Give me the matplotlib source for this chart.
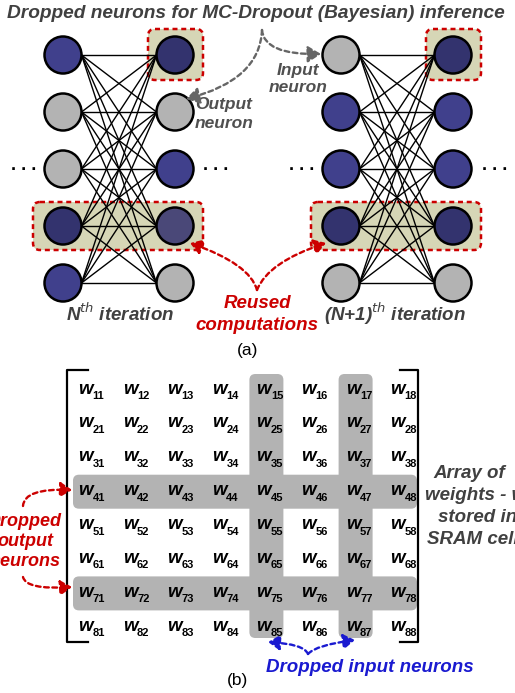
import matplotlib
matplotlib.use("Agg")
import matplotlib.pyplot as plt
from matplotlib.patches import Circle, FancyBboxPatch, FancyArrowPatch
from matplotlib.path import Path

plt.rcParams['font.family'] = ['Liberation Sans', 'DejaVu Sans']

# neuron states per layer: B = active, G = dropped, D/P = active and reused
nth_inputs = ['B', 'G', 'G', 'D', 'B']
nth_outputs = ['D', 'G', 'B', 'P', 'G']
next_inputs = ['G', 'B', 'B', 'D', 'G']
next_outputs = ['D', 'B', 'B', 'D', 'G']

# weight matrix: dropped rows (output neurons) and columns (input neurons)
n_rows = 8
n_cols = 8
dropped_rows = [4, 7]
dropped_cols = [5, 7]

fill = {'B': '#40408C', 'G': '#B3B3B3', 'D': '#33336E', 'P': '#4A4878'}
gray_txt = '#404040'
red = '#CC0000'
blue_txt = '#1A1AD0'
beige = '#D6D6B6'

fig = plt.figure(figsize=(5.15, 6.93), dpi=100)
ax = fig.add_axes([0, 0, 1, 1])
ax.set_xlim(0, 515)
ax.set_ylim(693, 0)
ax.axis('off')

bi = dict(fontweight='bold', fontstyle='italic')
fs = 13.5


def label(x, y, lines, dy, color, size=fs, ha='center'):
    for k, s in enumerate(lines):
        ax.text(x, y + k * dy, s, ha=ha, va='center', fontsize=size, color=color, **bi)


def curved_arrow(start, ctrl, end, color, hl=7, hw=4.5):
    # quadratic bezier so the bend sits where the reference has it
    p = Path([start, ctrl, end], [Path.MOVETO, Path.CURVE3, Path.CURVE3])
    ax.add_patch(FancyArrowPatch(path=p,
                                 arrowstyle='-|>,head_length=%s,head_width=%s' % (hl, hw),
                                 color=color, lw=1.7, ls=(0, (2, 1.5)), zorder=4))


ax.text(256, 14, 'Dropped neurons for MC-Dropout (Bayesian) inference',
        ha='center', va='center', fontsize=13.8, color=gray_txt, **bi)

# ---- (a) networks ----
row_y = [55 + 57 * i for i in range(5)]
r = 18.5


def hl_box(x0, y0, x1, y1):
    ax.add_patch(FancyBboxPatch((x0, y0), x1 - x0, y1 - y0,
                                boxstyle='round,pad=0,rounding_size=7',
                                fc=beige, ec=red, lw=1.8, ls=(0, (2, 1.5)), zorder=1))


def network(xl, xr, cin, cout):
    hl_box(xr - 27, row_y[0] - 26, xr + 28, row_y[0] + 25)
    hl_box(xl - 30, row_y[3] - 24, xr + 28, row_y[3] + 24)
    for yi in row_y:
        for yj in row_y:
            ax.plot([xl + r, xr - r], [yi, yj], color='black', lw=1.0, zorder=2)
    for yy, ci, co in zip(row_y, cin, cout):
        ax.add_patch(Circle((xl, yy), r, fc=fill[ci], ec='black', lw=1.8, zorder=3))
        ax.add_patch(Circle((xr, yy), r, fc=fill[co], ec='black', lw=1.8, zorder=3))


network(63, 175, nth_inputs, nth_outputs)
network(341, 453, next_inputs, next_outputs)

for xd in [24, 216, 302, 495]:
    ax.text(xd, 166, '. . .', ha='center', va='center', fontsize=13, fontweight='bold')

label(224, 105, ['Output', 'neuron'], 19, '#505050', size=12.5)
label(298, 70, ['Input', 'neuron'], 18, '#505050', size=12.5)

curved_arrow((262, 30), (260, 80), (186, 99), '#666666', hl=8, hw=5)
curved_arrow((262, 30), (264, 55), (321, 54), '#666666', hl=8, hw=5)

ax.text(120, 314, r'N$^{\mathit{th}}$ iteration', ha='center', va='center', fontsize=fs,
        color=gray_txt, **bi)
ax.text(395, 314, r'(N+1)$^{\mathit{th}}$ iteration', ha='center', va='center', fontsize=fs,
        color=gray_txt, **bi)
label(257, 304, ['Reused', 'computations'], 21, red)

curved_arrow((257, 290), (250, 264), (190, 243), red)
curved_arrow((257, 290), (268, 262), (326, 243), red)

ax.text(248, 350, '(a)', ha='center', va='center', fontsize=12.5)

# ---- (b) weight matrix ----
my = [391 + 33.9 * i for i in range(n_rows)]
mx = [78 + 44.6 * j for j in range(n_cols)]

band = '#B3B3B3'
for rr in dropped_rows:
    y = my[rr - 1]
    ax.add_patch(FancyBboxPatch((73, y - 18), 417 - 73, 34,
                                boxstyle='round,pad=0,rounding_size=6',
                                fc=band, ec='none', zorder=1))
for cc in dropped_cols:
    x = mx[cc - 1]
    ax.add_patch(FancyBboxPatch((x - 7, 374), 34, 638 - 374,
                                boxstyle='round,pad=0,rounding_size=6',
                                fc=band, ec='none', zorder=1))

for i in range(n_rows):
    for j in range(n_cols):
        ax.text(mx[j], my[i] - 2, 'w', ha='left', va='center', fontsize=13.5,
                zorder=3, **bi)
        ax.text(mx[j] + 14.5, my[i] + 5, '%d%d' % (i + 1, j + 1), ha='left', va='center',
                fontsize=8, fontweight='bold', zorder=3)

ax.plot([88, 67, 67, 88], [370, 370, 642, 642], color='black', lw=1.6, zorder=3)
ax.plot([400, 418, 418, 400], [370, 370, 642, 642], color='black', lw=1.6, zorder=3)

# right-hand caption, lines start where the reference puts them
for s, x0, y0 in [('Array of', 433, 474), ('weights - w', 425, 496),
                  ('stored in', 438, 518), ('SRAM cells', 427, 540)]:
    ax.text(x0, y0, s, ha='left', va='center', fontsize=fs, color=gray_txt, **bi)

label(25, 521, ['Dropped', 'output', 'neurons'], 20.5, red, size=13)

curved_arrow((23, 506), (24, 488), (72, 490), red)
curved_arrow((23, 577), (26, 590), (72, 587), red)

curved_arrow((308, 654), (304, 644), (268, 642), blue_txt)
curved_arrow((308, 654), (316, 645), (355, 640), blue_txt)
ax.text(370, 667, 'Dropped input neurons', ha='center', va='center', fontsize=fs,
        color=blue_txt, **bi)
ax.text(237, 680, '(b)', ha='center', va='center', fontsize=12.5)

fig.savefig('out.png', dpi=100)
